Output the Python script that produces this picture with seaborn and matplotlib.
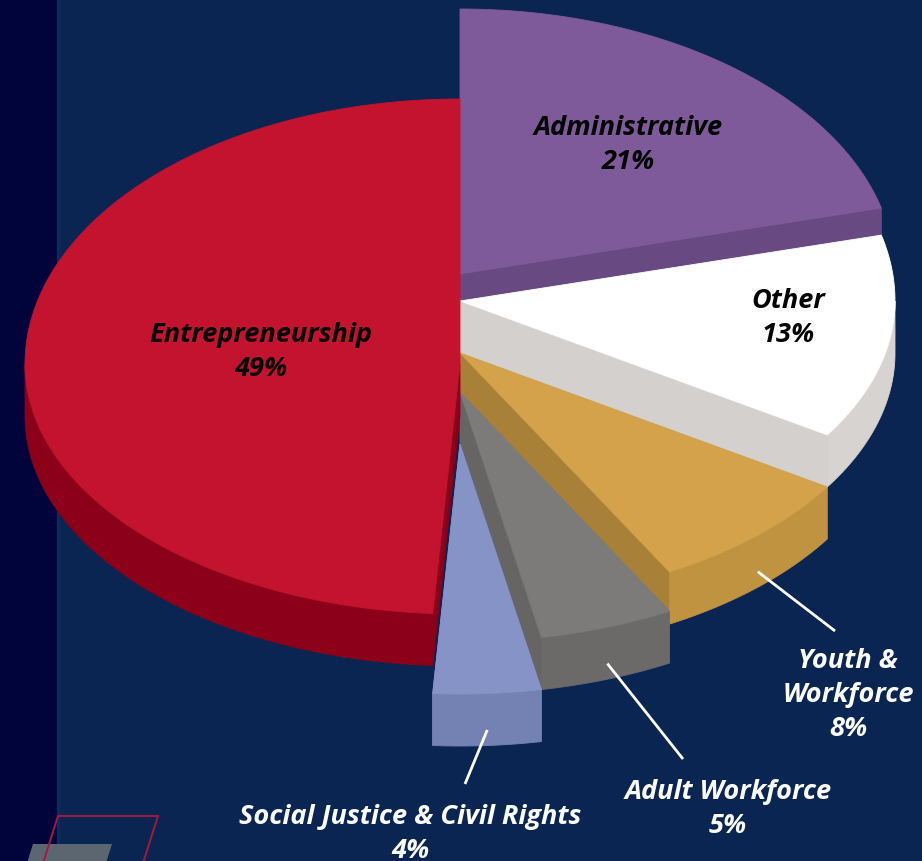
import numpy as np
import matplotlib
matplotlib.use("Agg")
import matplotlib.pyplot as plt
from matplotlib.patches import Polygon, Rectangle
import seaborn as sns

sns.set_theme(style="white")
plt.rcParams["font.family"] = ["Open Sans", "DejaVu Sans"]

# ---- data (clockwise from 12 o'clock) ----
categories = ["Administrative", "Other", "Youth &\nWorkforce", "Adult Workforce",
              "Social Justice & Civil Rights", "Entrepreneurship"]
values = [21, 13, 8, 5, 4, 49]

# ---- styling ----
top_colors = ["#7f5a9a", "#ffffff", "#d4a24a", "#7d7a7a", "#8593c7", "#c4132e"]
side_colors = ["#6a4a84", "#d7d3d1", "#bf9340", "#6c6969", "#7482b3", "#8c0019"]
cut_colors = ["#684982", "#d4d0ce", "#a98037", "#676464", "#7482b3", "#8a0019"]
explode_dy = [-90, -63, -11, 28, 80, 0]     # vertical pull-out of each wedge (px)
label_pos = [(628, 145), (788, 318), (848, 695), (728, 809), (410, 834), (261, 352)]
label_color = ["black", "black", "white", "white", "white", "black"]
leader_end = [None, None, (835, 632), (683, 760), (465, 785), None]

BG = "#0a2552"
STRIP = "#00043a"
CX, CY = 460.0, 365.0
RX, RY_TOP, RY_BOT = 435.0, 265.0, 250.0
THICK = 52.0

fig = plt.figure(figsize=(9.22, 8.62), dpi=100, facecolor=BG)
ax = fig.add_axes([0, 0, 1, 1])
ax.set_xlim(0, 922)
ax.set_ylim(862, 0)
ax.set_facecolor(BG)
ax.axis("off")

ax.add_patch(Rectangle((0, 0), 57, 862, color=STRIP, zorder=0))
ax.add_patch(Rectangle((57, 0), 2, 862, color="#0c2a5e", zorder=0))


def rim(theta, dy, z=0.0):
    t = np.radians(np.atleast_1d(theta))
    s = np.sin(t)
    ry = np.where(s >= 0, RY_TOP, RY_BOT)
    return CX + RX * np.cos(t), CY - ry * s + dy + z


def poly(xs, ys, color, z):
    ax.add_patch(Polygon(np.column_stack([xs, ys]), closed=True, facecolor=color,
                         edgecolor=color, linewidth=0.6, zorder=z))


# wedge angles (degrees, clockwise from 90)
total = float(sum(values))
starts, ends = [], []
a = 90.0
for v in values:
    starts.append(a)
    a -= 360.0 * v / total
    ends.append(a)

for i, (a0, a1) in enumerate(zip(starts, ends)):
    dy = explode_dy[i]
    z = 10 + i * 3
    ax_, ay_ = CX, CY + dy
    # cut faces that look toward the viewer (or nearly edge-on)
    for th, normal in ((a0, a0 + 90), (a1, a1 - 90)):
        if np.sin(np.radians(normal)) < 0.1 and abs(np.cos(np.radians(th))) > 1e-6:
            rx_, ry_ = rim(th, dy)
            xs = [ax_, rx_[0], rx_[0], ax_]
            ys = [ay_, ry_[0], ry_[0] + THICK, ay_ + THICK]
            poly(xs, ys, cut_colors[i], z)
    # outer wall on the front half
    lo, hi = a1, a0
    for k in (0, -360):
        v0, v1 = max(lo, -180 + k), min(hi, 0 + k)
        if v1 > v0:
            th = np.linspace(v1, v0, 120)
            x, y = rim(th, dy)
            poly(np.r_[x, x[::-1]], np.r_[y, (y + THICK)[::-1]], side_colors[i], z + 1)
    # top face
    th = np.linspace(a0, a1, 240)
    x, y = rim(th, dy)
    poly(np.r_[ax_, x], np.r_[ay_, y], top_colors[i], z + 2)

# labels and leader lines
for i, (cat, v) in enumerate(zip(categories, values)):
    txt = f"{cat}\n{v}%"
    lx, ly = label_pos[i]
    ax.text(lx, ly, txt, ha="center", va="center", fontsize=19.5, fontweight="bold",
            fontstyle="italic", color=label_color[i], linespacing=1.38, zorder=50)
    if leader_end[i] is not None:
        mid = (starts[i] + ends[i]) / 2
        sx, sy = rim(mid, explode_dy[i], THICK * 0.7)
        ex, ey = leader_end[i]
        ax.plot([sx[0], ex], [sy[0], ey], color="white", lw=2, zorder=49,
                solid_capstyle="butt")

# corner ornament
ax.add_patch(Polygon([(33, 845), (112, 845), (104, 870), (25, 870)], closed=True,
                     facecolor="#5b6670", edgecolor="none", zorder=2))
ax.add_patch(Polygon([(58, 817), (158, 817), (138, 880), (38, 880)], closed=True,
                     facecolor="none", edgecolor="#a3193f", linewidth=1.4, zorder=3))

fig.savefig("out.png", dpi=100, facecolor=BG)
